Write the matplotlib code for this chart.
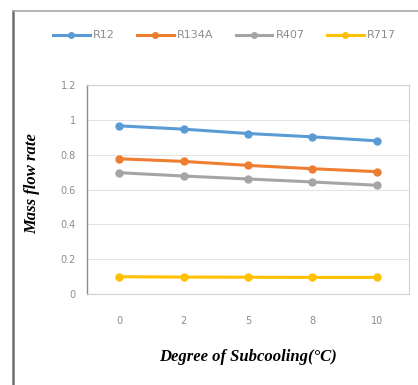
import matplotlib.pyplot as plt
from matplotlib.lines import Line2D

categories = ["0", "2", "5", "8", "10"]
r12 = [0.966, 0.947, 0.922, 0.903, 0.880]
r134a = [0.777, 0.762, 0.739, 0.720, 0.703]
r407 = [0.697, 0.678, 0.661, 0.644, 0.625]
r717 = [0.100, 0.098, 0.097, 0.096, 0.096]
series = [("R12", r12, "#5B9BD5"), ("R134A", r134a, "#ED7D31"),
          ("R407", r407, "#A5A5A5"), ("R717", r717, "#FFC000")]
yticks = [0, 0.2, 0.4, 0.6, 0.8, 1.0, 1.2]
ytick_labels = ["0", "0.2", "0.4", "0.6", "0.8", "1", "1.2"]

fig = plt.figure(figsize=(4.18, 3.85), dpi=100)
ax = fig.add_axes([0.208, 0.236, 0.770, 0.543])

xs = list(range(len(categories)))
handles = []
for name, vals, col in series:
    h, = ax.plot(xs, vals, color=col, lw=2.2, marker="o", ms=5, label=name)
    handles.append(h)

ax.set_xlim(-0.5, len(categories) - 0.5)
ax.set_ylim(0, 1.2)
ax.set_yticks(yticks)
ax.set_yticklabels(ytick_labels)
ax.set_xticks(xs)
ax.set_xticklabels(categories)
ax.tick_params(length=0, labelsize=7, colors="#8C8C8C", pad=8)
ax.tick_params(axis="x", pad=16)
ax.grid(axis="y", color="#E3E3E3", lw=0.8)
ax.set_axisbelow(True)
for s in ["top", "right", "bottom"]:
    ax.spines[s].set_color("#D0D0D0")
    ax.spines[s].set_linewidth(0.8)
ax.spines["left"].set_color("#8C8C8C")
ax.spines["left"].set_linewidth(1.0)

ax.set_ylabel("Mass flow rate", family="Liberation Serif", fontsize=12,
              fontweight="bold", fontstyle="italic")
ax.yaxis.set_label_coords(-0.145, 0.53)
ax.set_xlabel("Degree of Subcooling(\u00b0C)", family="Liberation Serif",
              fontsize=12, fontweight="bold", fontstyle="italic", labelpad=16)

leg = fig.legend(handles=handles, loc="center", bbox_to_anchor=(0.537, 0.908),
                 ncol=4, frameon=False, fontsize=8, handlelength=3.3,
                 columnspacing=2.0, handletextpad=0.3, markerscale=0.8)
for t in leg.get_texts():
    t.set_color("#8C8C8C")

# outer frame of the chart area
fig.add_artist(Line2D([13 / 418, 13 / 418], [0, 1 - 11 / 385],
                      transform=fig.transFigure, color="#6E6E6E", lw=1.8))
fig.add_artist(Line2D([13 / 418, 1], [1 - 11 / 385, 1 - 11 / 385],
                      transform=fig.transFigure, color="#A8A8A8", lw=1.2))

fig.savefig("out.png", dpi=100)
